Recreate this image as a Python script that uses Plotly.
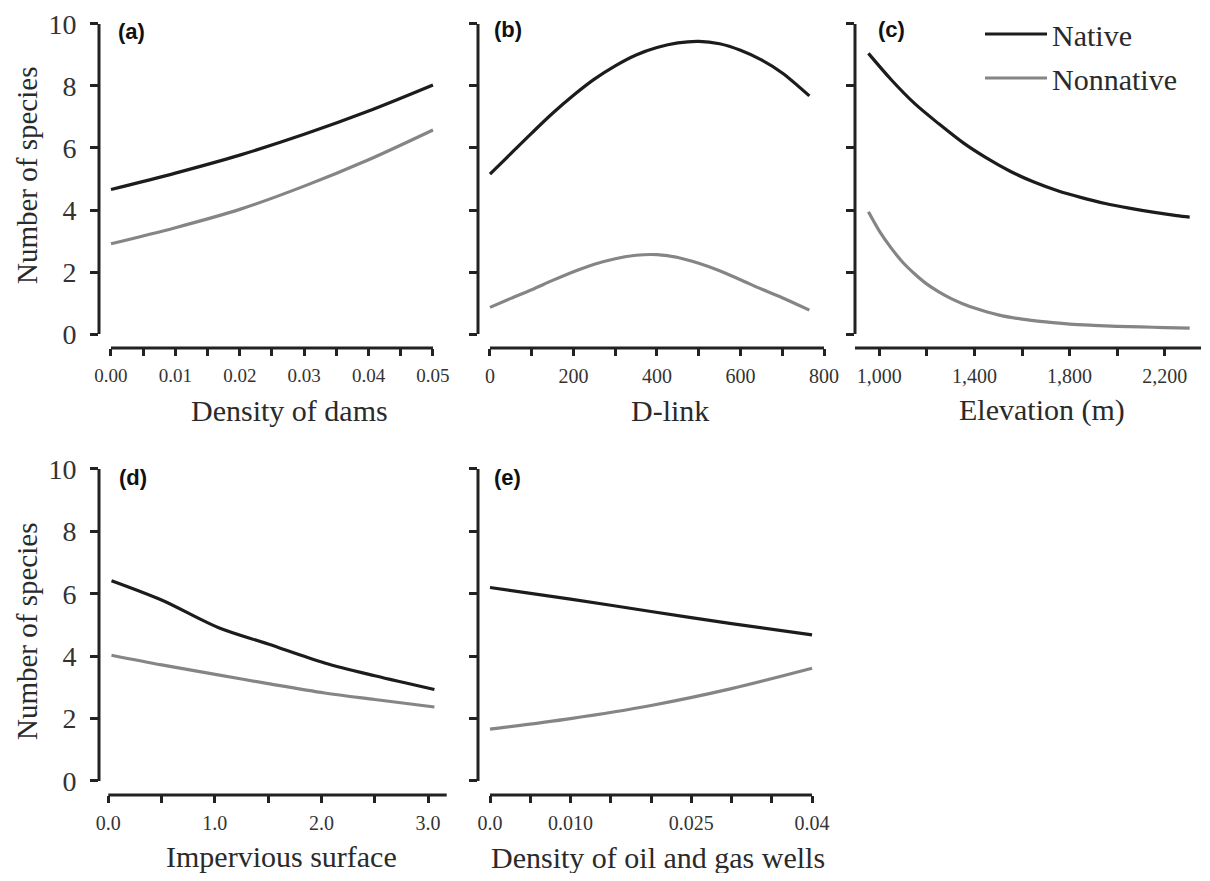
import plotly.graph_objects as go

# The page body adds an 8px margin, so the figure is laid out in reference pixels minus 8
# and sized so that the page never overflows the 1210x881 window.
OFF = 8
W, H = 1194, 865

# ---------------- data ----------------
dams_x = [0.0, 0.01, 0.02, 0.03, 0.04, 0.05]
dams_native = [4.66, 5.19, 5.77, 6.44, 7.19, 8.03]
dams_nonnative = [2.91, 3.43, 4.02, 4.77, 5.62, 6.58]

dlink_x_native = [0, 50, 100, 150, 200, 250, 300, 350, 400, 450, 500, 550, 600, 650, 700, 765]
dlink_native = [5.16, 5.82, 6.48, 7.12, 7.70, 8.22, 8.65, 9.00, 9.24, 9.39, 9.44, 9.36, 9.15, 8.84, 8.42, 7.68]
dlink_x_nonnative = [0, 50, 100, 150, 200, 250, 300, 350, 400, 450, 500, 550, 600, 650, 700, 765]
dlink_nonnative = [0.86, 1.15, 1.43, 1.73, 2.01, 2.25, 2.43, 2.54, 2.56, 2.47, 2.28, 2.04, 1.75, 1.45, 1.17, 0.77]

elev_x_native = [954, 1050, 1150, 1250, 1350, 1450, 1550, 1650, 1750, 1850, 1950, 2050, 2150, 2250, 2305]
elev_native = [9.05, 8.20, 7.42, 6.78, 6.18, 5.68, 5.25, 4.90, 4.62, 4.40, 4.21, 4.06, 3.93, 3.82, 3.77]
elev_x_nonnative = [954, 1000, 1050, 1100, 1150, 1200, 1250, 1300, 1350, 1400, 1500, 1600, 1700, 1800, 1900,
                    2000, 2100, 2200, 2305]
elev_nonnative = [3.94, 3.32, 2.77, 2.30, 1.93, 1.61, 1.36, 1.15, 0.98, 0.84, 0.62, 0.48, 0.39, 0.32, 0.28,
                  0.25, 0.23, 0.21, 0.19]

imp_x = [0.03, 0.5, 1.03, 1.5, 2.03, 2.5, 3.06]
imp_native = [6.42, 5.80, 4.92, 4.39, 3.78, 3.37, 2.93]
imp_nonnative = [4.03, 3.72, 3.40, 3.12, 2.82, 2.61, 2.37]

oil_x = [0.0, 0.01, 0.02, 0.03, 0.04]
oil_native = [6.20, 5.83, 5.43, 5.04, 4.68]
oil_nonnative = [1.66, 2.00, 2.42, 2.96, 3.61]

y_ticks = [0, 2, 4, 6, 8, 10]

dams_ticks = [0.0, 0.01, 0.02, 0.03, 0.04, 0.05]
dams_labels = ["0.00", "0.01", "0.02", "0.03", "0.04", "0.05"]
dlink_ticks = [0, 200, 400, 600, 800]
dlink_labels = ["0", "200", "400", "600", "800"]
elev_ticks = [1000, 1400, 1800, 2200]
elev_labels = ["1,000", "1,400", "1,800", "2,200"]
imp_ticks = [0.0, 1.0, 2.0, 3.0]
imp_labels = ["0.0", "1.0", "2.0", "3.0"]
oil_ticks = [0.0, 0.01, 0.025, 0.04]
oil_labels = ["0.0", "0.010", "0.025", "0.04"]

NATIVE = "#1c1c1c"
NONNATIVE = "#858585"
AX = "#222222"
SERIF = "Liberation Serif, Times New Roman, serif"
SANS = "Liberation Sans, Arial, sans-serif"


def px_x(p):
    return (p - OFF) / W


def px_y(p):
    return 1 - (p - OFF) / H


fig = go.Figure()

TOP = (23, 348)
BOT = (468, 795)

panels = [
    dict(ax="", xs=(dams_x, dams_x), ys=(dams_native, dams_nonnative), xd=(99, 436), yd=TOP,
         xr=[-0.00186, 0.05047], tv=dams_ticks, tt=dams_labels, minor=0.005, t0=0, xl=(0.0, 0.05), ylab=True, tfs=19),
    dict(ax="2", xs=(dlink_x_native, dlink_x_nonnative), ys=(dlink_native, dlink_nonnative), xd=(478, 826),
         yd=TOP, xr=[-28.7, 804.8], tv=dlink_ticks, tt=dlink_labels, minor=100, t0=0, xl=(0, 800),
         ylab=False, tfs=20),
    dict(ax="3", xs=(elev_x_native, elev_x_nonnative), ys=(elev_native, elev_nonnative), xd=(855, 1201),
         yd=TOP, xr=[897.5, 2352.5], tv=elev_ticks, tt=elev_labels, minor=200, t0=1000, xl=None,
         ylab=False, tfs=20),
    dict(ax="4", xs=(imp_x, imp_x), ys=(imp_native, imp_nonnative), xd=(99, 447), yd=BOT,
         xr=[-0.0872, 3.178], tv=imp_ticks, tt=imp_labels, minor=0.5, t0=0, xl=(0.0, 3.175), ylab=True, tfs=20),
    dict(ax="5", xs=(oil_x, oil_x), ys=(oil_native, oil_nonnative), xd=(478, 813), yd=BOT,
         xr=[-0.00149, 0.04012], tv=oil_ticks, tt=oil_labels, minor=0.005, t0=0, xl=(0.0, 0.04), ylab=False,
         tfs=20),
]

shapes = []
for i, p in enumerate(panels):
    a = p["ax"]
    xa = "x" + a
    ya = "y" + a
    fig.add_trace(go.Scatter(x=p["xs"][0], y=p["ys"][0], mode="lines", name="Native",
                             legendgroup="native", showlegend=(i == 0),
                             line=dict(color=NATIVE, width=3.2, shape="spline", smoothing=0.9),
                             xaxis=xa, yaxis=ya))
    fig.add_trace(go.Scatter(x=p["xs"][1], y=p["ys"][1], mode="lines", name="Nonnative",
                             legendgroup="nonnative", showlegend=(i == 0),
                             line=dict(color=NONNATIVE, width=3.2, shape="spline", smoothing=0.9),
                             xaxis=xa, yaxis=ya))
    yrange = [-0.45, 10.03]
    fig.layout["xaxis" + a] = dict(
        domain=[px_x(p["xd"][0]), px_x(p["xd"][1])], range=p["xr"], anchor=ya,
        tickvals=p["tv"], ticktext=p["tt"], ticks="outside", ticklen=7, tickwidth=2.5, tickcolor=AX,
        showline=False, showgrid=False, zeroline=False, automargin=False, ticklabeloverflow="allow",
        tickfont=dict(family=SERIF, size=p["tfs"], color="#333333"), ticklabelstandoff=3,
        minor=dict(dtick=p["minor"], tick0=p["t0"], ticks="outside", ticklen=7, tickwidth=2.5,
                   tickcolor=AX, showgrid=False),
    )
    fig.layout["yaxis" + a] = dict(
        domain=[px_y(p["yd"][1]), px_y(p["yd"][0])], range=yrange, anchor=xa,
        tickvals=y_ticks, ticks="outside", ticklen=8, tickwidth=2.5, tickcolor=AX,
        showticklabels=p["ylab"], showline=False, showgrid=False, zeroline=False, automargin=False,
        ticklabeloverflow="allow",
        tickfont=dict(family=SERIF, size=28, color="#333333"), ticklabelstandoff=8,
    )
    # y axis line (0..10)
    shapes.append(dict(type="line", xref=xa + " domain", yref=ya, x0=0, x1=0, y0=0, y1=10,
                       line=dict(color=AX, width=3)))
    # x axis line
    if p["xl"] is None:
        shapes.append(dict(type="line", xref=xa + " domain", yref=ya + " domain", x0=0, x1=1, y0=0, y1=0,
                           line=dict(color=AX, width=3)))
    else:
        shapes.append(dict(type="line", xref=xa, yref=ya + " domain", x0=p["xl"][0], x1=p["xl"][1], y0=0, y1=0,
                           line=dict(color=AX, width=3)))

annotations = []


def add_text(text, x, y, size, family=SERIF, angle=0, xanchor="center", bold=False, color="#2a2a2a"):
    annotations.append(dict(text=("<b>%s</b>" % text) if bold else text, x=px_x(x), y=px_y(y),
                            xref="paper", yref="paper", showarrow=False, xanchor=xanchor, yanchor="middle",
                            textangle=angle, font=dict(family=family, size=size, color=color)))


add_text("Density of dams", 289, 410, 30)
add_text("D-link", 670, 410, 30)
add_text("Elevation (m)", 1042, 410, 30)
add_text("Impervious surface", 281, 856, 30)
add_text("Density of oil and gas wells", 658, 857, 30)
add_text("Number of species", 27, 176, 29, angle=-90)
add_text("Number of species", 27, 632, 29, angle=-90)

add_text("(a)", 116, 31, 22, family=SANS, xanchor="left", bold=True, color="#111111")
add_text("(b)", 492, 30, 22, family=SANS, xanchor="left", bold=True, color="#111111")
add_text("(c)", 876, 30, 22, family=SANS, xanchor="left", bold=True, color="#111111")
add_text("(d)", 117, 478, 22, family=SANS, xanchor="left", bold=True, color="#111111")
add_text("(e)", 492, 477, 22, family=SANS, xanchor="left", bold=True, color="#111111")

fig.update_layout(
    width=W, height=H, template="none",
    margin=dict(l=0, r=0, t=0, b=0),
    paper_bgcolor="white", plot_bgcolor="white",
    shapes=shapes, annotations=annotations,
    showlegend=True,
    legend=dict(x=px_x(980), y=1.0, xanchor="left", yanchor="top",
                font=dict(family=SERIF, size=30, color="#2a2a2a"),
                itemwidth=62, tracegroupgap=2, bgcolor="rgba(0,0,0,0)"),
)

fig.write_html("out.html")
